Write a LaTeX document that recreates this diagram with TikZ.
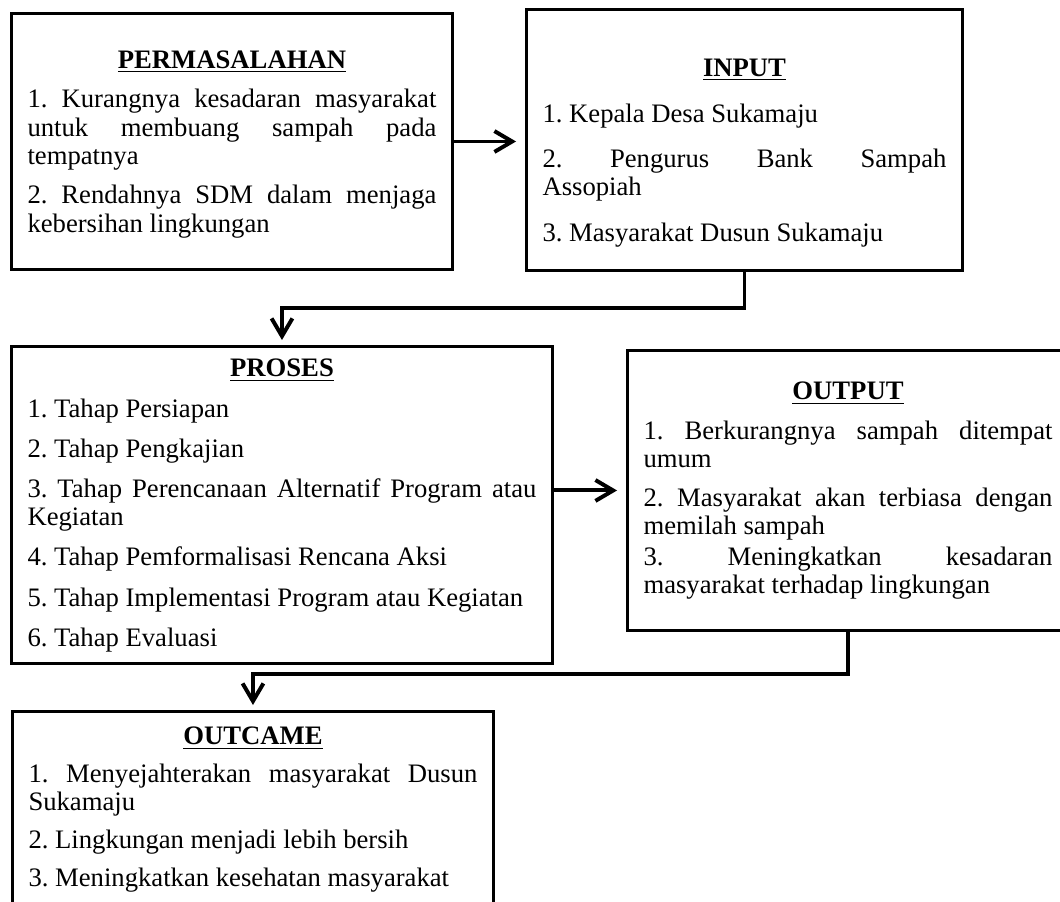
\documentclass[tikz,border=0pt]{standalone}
\usepackage{fontspec}
\setmainfont{Liberation Serif}
\usepackage{tikz}
\usetikzlibrary{arrows.meta,calc}
\frenchspacing
\newcommand{\judul}[3][0pt]{{\centering\rule{0pt}{\dimexpr 9pt+#1\relax}\underline{\textbf{#3}}\par}\setlength{\parskip}{#2}}
\tikzset{
    kotak/.style={
        rectangle,
        draw=black,
        line width=1.4pt,
        inner xsep=7.7pt,
        inner ysep=1pt,
        align=justify,
        anchor=north west,
        font=\fontsize{12.8}{13.5}\selectfont,
    },
    panah/.style={
        draw,
        -{Straight Barb[length=8.5pt,width=10pt]},
        line width=1.9pt,
    },
}
\begin{document}
\begin{tikzpicture}[x=0.48pt,y=-0.48pt]
\useasboundingbox (0,0) rectangle (1060,901);
\node [kotak, text width=196.3pt, minimum height=122.9pt] (permasalahan) at (10,12) {\judul[2pt]{5.6pt}{PERMASALAHAN}
1. Kurangnya kesadaran masyarakat\linebreak untuk membuang sampah pada\linebreak tempatnya\par
2. Rendahnya SDM dalam menjaga\linebreak kebersihan lingkungan};
\node [kotak, text width=193.9pt, minimum height=125.3pt] (input) at (525,8) {\judul[12pt]{8.5pt}{INPUT}
1. Kepala Desa Sukamaju\par
2. Pengurus Bank Sampah\linebreak Assopiah\par
3. Masyarakat Dusun Sukamaju};
\node [kotak, text width=244.3pt, minimum height=152.2pt] (proses) at (10,345) {\judul{5.8pt}{PROSES}
1. Tahap Persiapan\par
2. Tahap Pengkajian\par
3. Tahap Perencanaan Alternatif Program atau\linebreak Kegiatan\par
4. Tahap Pemformalisasi Rencana Aksi\par
5. Tahap Implementasi Program atau Kegiatan\par
6. Tahap Evaluasi};
\node [kotak, text width=196.3pt, minimum height=134.4pt] (output) at (626,349) {\judul{5.3pt}{OUTPUT}
1. Berkurangnya sampah ditempat\linebreak umum\par
2. Masyarakat akan terbiasa dengan\linebreak memilah sampah\\[1.5pt]
3. Meningkatkan kesadaran\linebreak masyarakat terhadap lingkungan};
\node [kotak, text width=215.5pt, minimum height=93.6pt] (outcame) at (11,710) {\judul{4.6pt}{OUTCAME}
1. Menyejahterakan masyarakat Dusun\linebreak Sukamaju\par
2. Lingkungan menjadi lebih bersih\par
3. Meningkatkan kesehatan masyarakat};
\draw [panah, shorten >=4.3pt] (permasalahan.east) -- (permasalahan.east -| input.west);
\draw [panah, shorten >=2.4pt] (input.south) -- ++(0,36) -| (proses.north);
\draw [panah, shorten >=4.3pt] (proses.east |- output.west) -- (output.west);
\draw [panah, shorten >=2.4pt] (output.south) -- ++(0,42) -| (outcame.north);
\end{tikzpicture}
\end{document}
